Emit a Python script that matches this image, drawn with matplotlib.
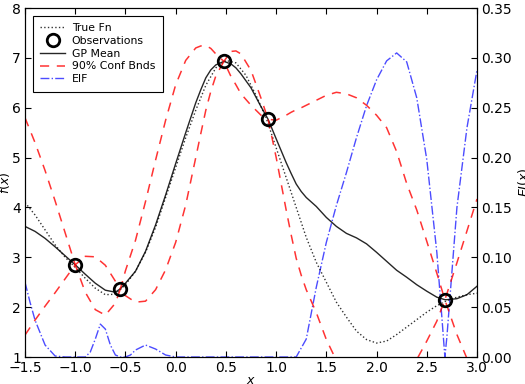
import matplotlib
matplotlib.use("Agg")
import matplotlib.pyplot as plt
import numpy as np

# observed points
obs_x = [-1.0, -0.55, 0.48, 0.92, 2.68]
obs_y = [2.85, 2.37, 6.93, 5.77, 2.15]

# GP mean and 90% band half-width
gp_x = [-1.5, -1.4, -1.3, -1.2, -1.1, -1.0, -0.9, -0.8, -0.7, -0.6, -0.55,
        -0.5, -0.4, -0.3, -0.2, -0.1, 0.0, 0.1, 0.2, 0.25, 0.3, 0.35, 0.4, 0.48,
        0.55, 0.6, 0.65, 0.75, 0.85, 0.92, 1.0, 1.05, 1.1, 1.15, 1.2, 1.25, 1.3, 1.4, 1.5, 1.6,
        1.7, 1.8, 1.9, 2.0, 2.1, 2.2, 2.3, 2.4, 2.5, 2.6, 2.68, 2.7,
        2.8, 2.9, 3.0]
gp_mean = [3.62, 3.52, 3.38, 3.21, 3.03, 2.85, 2.66, 2.48, 2.34, 2.30, 2.37,
           2.48, 2.72, 3.12, 3.65, 4.25, 4.88, 5.50, 6.10, 6.36, 6.60, 6.76, 6.86, 6.93,
           6.88, 6.80, 6.68, 6.40, 6.02, 5.77, 5.38, 5.14, 4.90, 4.68, 4.47, 4.32, 4.20, 4.02, 3.80, 3.62,
           3.48, 3.39, 3.27, 3.10, 2.92, 2.74, 2.60, 2.45, 2.32, 2.20, 2.15, 2.15,
           2.17, 2.25, 2.42]
gp_halfw = [2.18, 1.78, 1.36, 0.92, 0.46, 0.0, 0.36, 0.53, 0.50, 0.22, 0.0,
            0.25, 0.62, 1.00, 1.30, 1.50, 1.58, 1.45, 1.10, 0.88, 0.65, 0.43, 0.22, 0.0,
            0.25, 0.34, 0.40, 0.35, 0.17, 0.0, 0.37, 0.66, 0.95, 1.23, 1.49, 1.68, 1.85, 2.13, 2.45, 2.69,
            2.80, 2.81, 2.78, 2.75, 2.68, 2.38, 1.88, 1.50, 1.00, 0.48, 0.0, 0.12,
            0.72, 1.28, 1.75]

# true function
true_x = [-1.5, -1.4, -1.3, -1.2, -1.1, -1.0, -0.9, -0.8, -0.7, -0.6, -0.5,
          -0.4, -0.3, -0.2, -0.1, 0.0, 0.1, 0.2, 0.3, 0.4, 0.5, 0.6, 0.7,
          0.8, 0.9, 1.0, 1.1, 1.2, 1.3, 1.4, 1.5, 1.6, 1.7, 1.8, 1.9, 2.0,
          2.1, 2.2, 2.3, 2.4, 2.5, 2.6, 2.7, 2.8, 2.9, 3.0]
true_y = [4.10, 3.85, 3.55, 3.25, 3.00, 2.80, 2.58, 2.38, 2.25, 2.26, 2.45,
          2.72, 3.10, 3.60, 4.20, 4.80, 5.40, 5.95, 6.45, 6.80, 6.95, 6.90, 6.65,
          6.25, 5.80, 5.20, 4.60, 4.00, 3.40, 2.90, 2.50, 2.10, 1.80, 1.52, 1.35, 1.28,
          1.32, 1.45, 1.60, 1.75, 1.90, 2.03, 2.13, 2.20, 2.25, 2.28]

# expected improvement
ei_x = [-1.5, -1.45, -1.4, -1.3, -1.2, -1.1, -1.0, -0.9, -0.85, -0.8, -0.75,
        -0.7, -0.65, -0.6, -0.55, -0.5, -0.45, -0.4, -0.3, -0.2, -0.1, 0.0,
        0.5, 1.0, 1.2, 1.3, 1.4, 1.5, 1.6, 1.7, 1.8, 1.9, 2.0, 2.1, 2.2,
        2.3, 2.4, 2.5, 2.6, 2.65, 2.68, 2.7, 2.75, 2.8, 2.9, 3.0]
ei_y = [0.075, 0.055, 0.037, 0.012, 0.001, 0.0, 0.0, 0.0, 0.005, 0.018, 0.033,
        0.028, 0.012, 0.002, 0.0, 0.0, 0.002, 0.007, 0.012, 0.008, 0.002, 0.0,
        0.0, 0.0, 0.0, 0.018, 0.070, 0.115, 0.152, 0.185, 0.220, 0.252, 0.278, 0.297, 0.305,
        0.296, 0.260, 0.198, 0.105, 0.040, 0.0, 0.020, 0.085, 0.150, 0.230, 0.288]

gp_x = np.array(gp_x)
gp_mean = np.array(gp_mean)
gp_halfw = np.array(gp_halfw)

fig = plt.figure(figsize=(5.25, 3.84), dpi=100)
ax = fig.add_axes([0.0476, 0.0703, 0.8610, 0.9087])
ax2 = ax.twinx()

l_true, = ax.plot(true_x, true_y, 'k:', lw=1.0, alpha=0.8, label='True Fn')
l_obs, = ax.plot(obs_x, obs_y, 'o', mfc='none', mec='k', mew=2, ms=9,
                 label='Observations', zorder=5)
l_mean, = ax.plot(gp_x, gp_mean, 'k-', lw=1.0, alpha=0.85, label='GP Mean')
l_up, = ax.plot(gp_x, gp_mean + gp_halfw, '--', color='r', lw=1.1, alpha=0.8,
                dashes=(6, 5), label='90% Conf Bnds')
ax.plot(gp_x, gp_mean - gp_halfw, '--', color='r', lw=1.1, alpha=0.8, dashes=(6, 5))
l_ei, = ax2.plot(ei_x, ei_y, '-.', color='b', lw=1.0, alpha=0.7, label='EIF')

ax.set_xlim(-1.5, 3.0)
ax.set_ylim(1, 8)
ax2.set_ylim(0, 0.35)
ax.set_xticks(np.arange(-1.5, 3.01, 0.5))
ax2.set_yticks(np.arange(0, 0.351, 0.05))
ax2.set_yticklabels(['%.2f' % v for v in np.arange(0, 0.351, 0.05)])

for a in (ax, ax2):
    a.tick_params(direction='in', labelsize=10, length=4, pad=3)
ax.tick_params(top=True)

ax.set_xlabel('$x$', fontsize=9, labelpad=-1)
ax.set_ylabel('$f(x)$', fontsize=9, labelpad=0)
ax2.set_ylabel('$EI(x)$', fontsize=9, labelpad=3)

ax2.set_zorder(ax.get_zorder() - 1)
ax.patch.set_visible(False)

leg = ax.legend(handles=[l_true, l_obs, l_mean, l_up, l_ei], loc='upper left',
                fontsize=7.8, numpoints=1, fancybox=False, framealpha=1,
                edgecolor='k', handlelength=2.3, handletextpad=0.6,
                labelspacing=0.25, borderpad=0.7, borderaxespad=0.7)
leg.get_frame().set_linewidth(0.8)

fig.savefig('out.png', dpi=100)
